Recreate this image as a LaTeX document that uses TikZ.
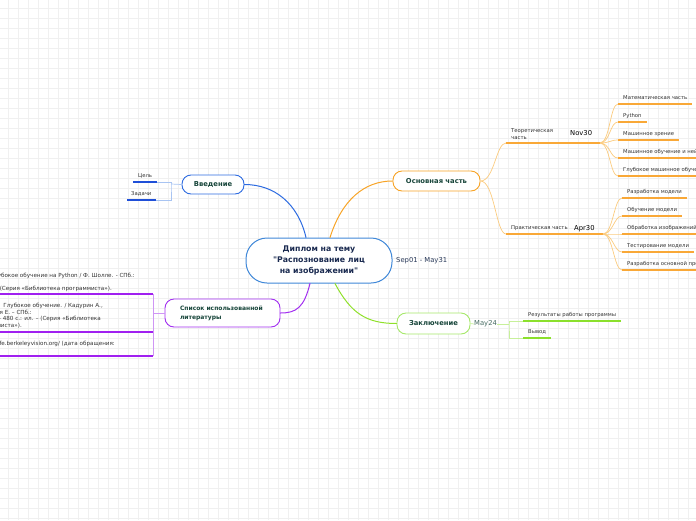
\documentclass[tikz,border=0pt]{standalone}
\usepackage{fontspec}
\setmainfont{DejaVu Sans}
\usetikzlibrary{positioning}
\definecolor{rootblue}{HTML}{3F87D8}
\definecolor{roottext}{HTML}{1A2A50}
\definecolor{topictext}{HTML}{17453A}
\definecolor{leaftext}{HTML}{333333}
\definecolor{introblue}{HTML}{2D6BE0}
\definecolor{introlight}{HTML}{A8C4F2}
\definecolor{introline}{HTML}{1F4FD8}
\definecolor{mainorange}{HTML}{F7A325}
\definecolor{orangelight}{HTML}{FBCB7E}
\definecolor{orangeline}{HTML}{F9A837}
\definecolor{concgreen}{HTML}{8FE02A}
\definecolor{greenborder}{HTML}{A6E86A}
\definecolor{greenlight}{HTML}{C7F09A}
\definecolor{greenline}{HTML}{8BE02C}
\definecolor{refpurple}{HTML}{A22FF0}
\definecolor{purplelight}{HTML}{CF96F5}
\definecolor{purpleline}{HTML}{A020F0}
\definecolor{datetext}{HTML}{2A3A5A}
\begin{document}
\begin{tikzpicture}[x=1pt,y=-1pt]
\tikzset{
  rootnode/.style={draw=rootblue,fill=white,line width=1pt,rounded corners=21pt,minimum width=146pt,minimum height=45pt,align=center,inner sep=0pt,font=\fontsize{7.8}{10.8}\selectfont\bfseries,text=roottext},
  topicnode/.style={draw=#1,fill=white,line width=0.9pt,rounded corners=9pt,minimum height=20pt,inner sep=0pt,font=\fontsize{6.8}{8}\selectfont\bfseries,text=topictext},
  leafnode/.style={anchor=south west,inner xsep=5pt,inner ysep=4.5pt,text depth=0pt,align=left,font=\fontsize{5.3}{7}\selectfont,text=leaftext},
  datelabel/.style={anchor=west,inner sep=0pt,font=\fontsize{6.8}{8}\selectfont},
  reftext/.style={anchor=base east,inner sep=0pt,font=\fontsize{5.6}{7}\selectfont,text=leaftext},
  mainedge/.style={draw=#1,line width=1pt,line cap=round},
  linkedge/.style={draw=#1,line width=0.7pt},
  leafline/.style={draw=#1,line width=2pt},
  gridline/.style={draw=black!6,line width=0.5pt}
}
\useasboundingbox (0,0) rectangle (696,520);
\clip (0,0) rectangle (696,520);
\foreach \gx in {8,18,...,688} \draw[gridline] (\gx,0) -- (\gx,520);
\foreach \gy in {8,18,...,518} \draw[gridline] (0,\gy) -- (696,\gy);
\node[rootnode] (n_root) at (319,260.5) {Диплом на тему\\\textquotedbl Распознование лиц\\на изображении\textquotedbl};
\node[datelabel,text=datetext] (n_span) at (396,261) {Sep01 - May31};
\node[topicnode=introblue,minimum width=62pt,minimum height=19pt] (n_intro) at (213,184.5) {Введение};
\node[topicnode=mainorange,minimum width=87pt] (n_main) at (436.5,181) {Основная часть};
\node[topicnode=greenborder,minimum width=73pt,minimum height=21pt] (n_concl) at (433.5,323.5) {Заключение};
\node[topicnode=refpurple,minimum width=115pt,minimum height=28pt,align=left,text width=85pt,font=\fontsize{6}{9}\selectfont\bfseries] (n_refs) at (222.5,313) {Список использованной\\литературы};
\draw[mainedge=introblue] ([xshift=-13pt]n_root.north) .. controls +(-8,-34) and +(30,0) .. (n_intro.east);
\draw[mainedge=mainorange] ([xshift=11pt]n_root.north) .. controls +(12,-38) and +(-28,0) .. (n_main.west);
\draw[mainedge=concgreen] ([xshift=16pt]n_root.south) .. controls +(16,30) and +(-30,0) .. (n_concl.west);
\draw[mainedge=refpurple] ([xshift=-9pt]n_root.south) .. controls +(-6,24) and +(16,0) .. (n_refs.east);
\node[leafnode] (n_goal) at (133,182) {Цель};
\node[leafnode,inner xsep=4pt] (n_tasks) at (127,200) {Задачи};
\coordinate (c_intro) at (171,184);
\draw[linkedge=introlight] (n_intro.west) -- (c_intro);
\draw[linkedge=introlight] (n_goal.south east) -| (c_intro) |- (n_tasks.south east);
\draw[leafline=introline] (n_goal.south west) -- (n_goal.south east);
\draw[leafline=introline] (n_tasks.south west) -- (n_tasks.south east);
\node[leafnode,inner ysep=3.5pt] (n_theory) at (506,143) {Теоретическая\\часть};
\coordinate (c_theory) at (600,143);
\node[datelabel] (n_nov) at (570,133.5) {Nov30};
\node[leafnode] (n_practice) at (506,234) {Практическая часть};
\coordinate (c_practice) at (603,234);
\node[datelabel] (n_apr) at (574,228.5) {Apr30};
\draw[linkedge=orangelight] (n_main.east) .. controls +(14,0) and +(-10,0) .. (n_theory.south west);
\draw[linkedge=orangelight] (n_main.east) .. controls +(14,0) and +(-10,0) .. (n_practice.south west);
\draw[leafline=orangeline] (n_theory.south west) -- (c_theory);
\draw[leafline=orangeline] (n_practice.south west) -- (c_practice);
\node[leafnode] (n_math) at (618,104) {Математическая часть};
\node[leafnode] (n_python) at (618,122) {Python};
\node[leafnode] (n_vision) at (618,140) {Машинное зрение};
\node[leafnode] (n_ml) at (618,158) {Машинное обучение и нейронные сети};
\node[leafnode] (n_deep) at (618,176) {Глубокое машинное обучение};
\foreach \leaf in {n_math,n_python,n_vision,n_ml,n_deep}{
  \draw[linkedge=orangelight] (c_theory) .. controls +(10,0) and +(-8,0) .. (\leaf.south west);
  \draw[leafline=orangeline] (\leaf.south west) -- (\leaf.south east);
}
\node[leafnode] (n_model) at (622,198) {Разработка модели};
\node[leafnode] (n_train) at (622,216) {Обучение модели};
\node[leafnode] (n_images) at (622,234) {Обработка изображений};
\node[leafnode] (n_test) at (622,252) {Тестирование модели};
\node[leafnode] (n_program) at (622,270) {Разработка основной программы};
\foreach \leaf in {n_model,n_train,n_images,n_test,n_program}{
  \draw[linkedge=orangelight] (c_practice) .. controls +(10,0) and +(-8,0) .. (\leaf.south west);
  \draw[leafline=orangeline] (\leaf.south west) -- (\leaf.south east);
}
\node[datelabel,text=topictext!80] (n_may) at (474,324) {May24};
\node[leafnode] (n_result) at (523,321) {Результаты работы программы};
\node[leafnode] (n_output) at (523,338) {Вывод};
\coordinate (c_concl) at (509,324);
\draw[linkedge=greenlight] (n_concl.east) -- (n_may.west);
\draw[linkedge=greenlight] (n_may.east) -- (c_concl);
\draw[linkedge=greenlight] (n_result.south west) -| (c_concl) |- (n_output.south west);
\draw[leafline=greenline] (n_result.south west) -- (n_result.south east);
\draw[leafline=greenline] (n_output.south west) -- (n_output.south east);
\coordinate (c_refs) at (153,313);
\coordinate (c_ref1_a) at (-10,294);
\coordinate (c_ref1_b) at (153,294);
\coordinate (c_ref2_a) at (-10,332);
\coordinate (c_ref2_b) at (153,332);
\coordinate (c_ref3_a) at (-10,356);
\coordinate (c_ref3_b) at (153,356);
\node[reftext] (n_ref1_l1) at (135,277.5) {Глубокое обучение на Python / Ф. Шолле. - СПб.:};
\node[reftext] (n_ref1_l2) at (112,290) {- (Серия «Библиотека программиста»).};
\node[reftext] (n_ref2_l1) at (103,307.5) {Глубокое обучение. / Кадурин А.,};
\node[reftext] (n_ref2_l2) at (32,314) {Архангельская Е. – СПб.:};
\node[reftext] (n_ref2_l3) at (101,320.7) {– 480 с.: ил. – (Серия «Библиотека};
\node[reftext] (n_ref2_l4) at (22,327.5) {программиста»).};
\node[reftext] (n_ref3_l1) at (115,345) {http://caffe.berkeleyvision.org/ (дата обращения:};
\draw[linkedge=purplelight] (n_refs.west) -- (c_refs);
\draw[linkedge=purplelight] (c_ref1_b) -- (c_ref3_b);
\draw[leafline=purpleline] (c_ref1_a) -- (c_ref1_b);
\draw[leafline=purpleline] (c_ref2_a) -- (c_ref2_b);
\draw[leafline=purpleline] (c_ref3_a) -- (c_ref3_b);
\end{tikzpicture}
\end{document}
